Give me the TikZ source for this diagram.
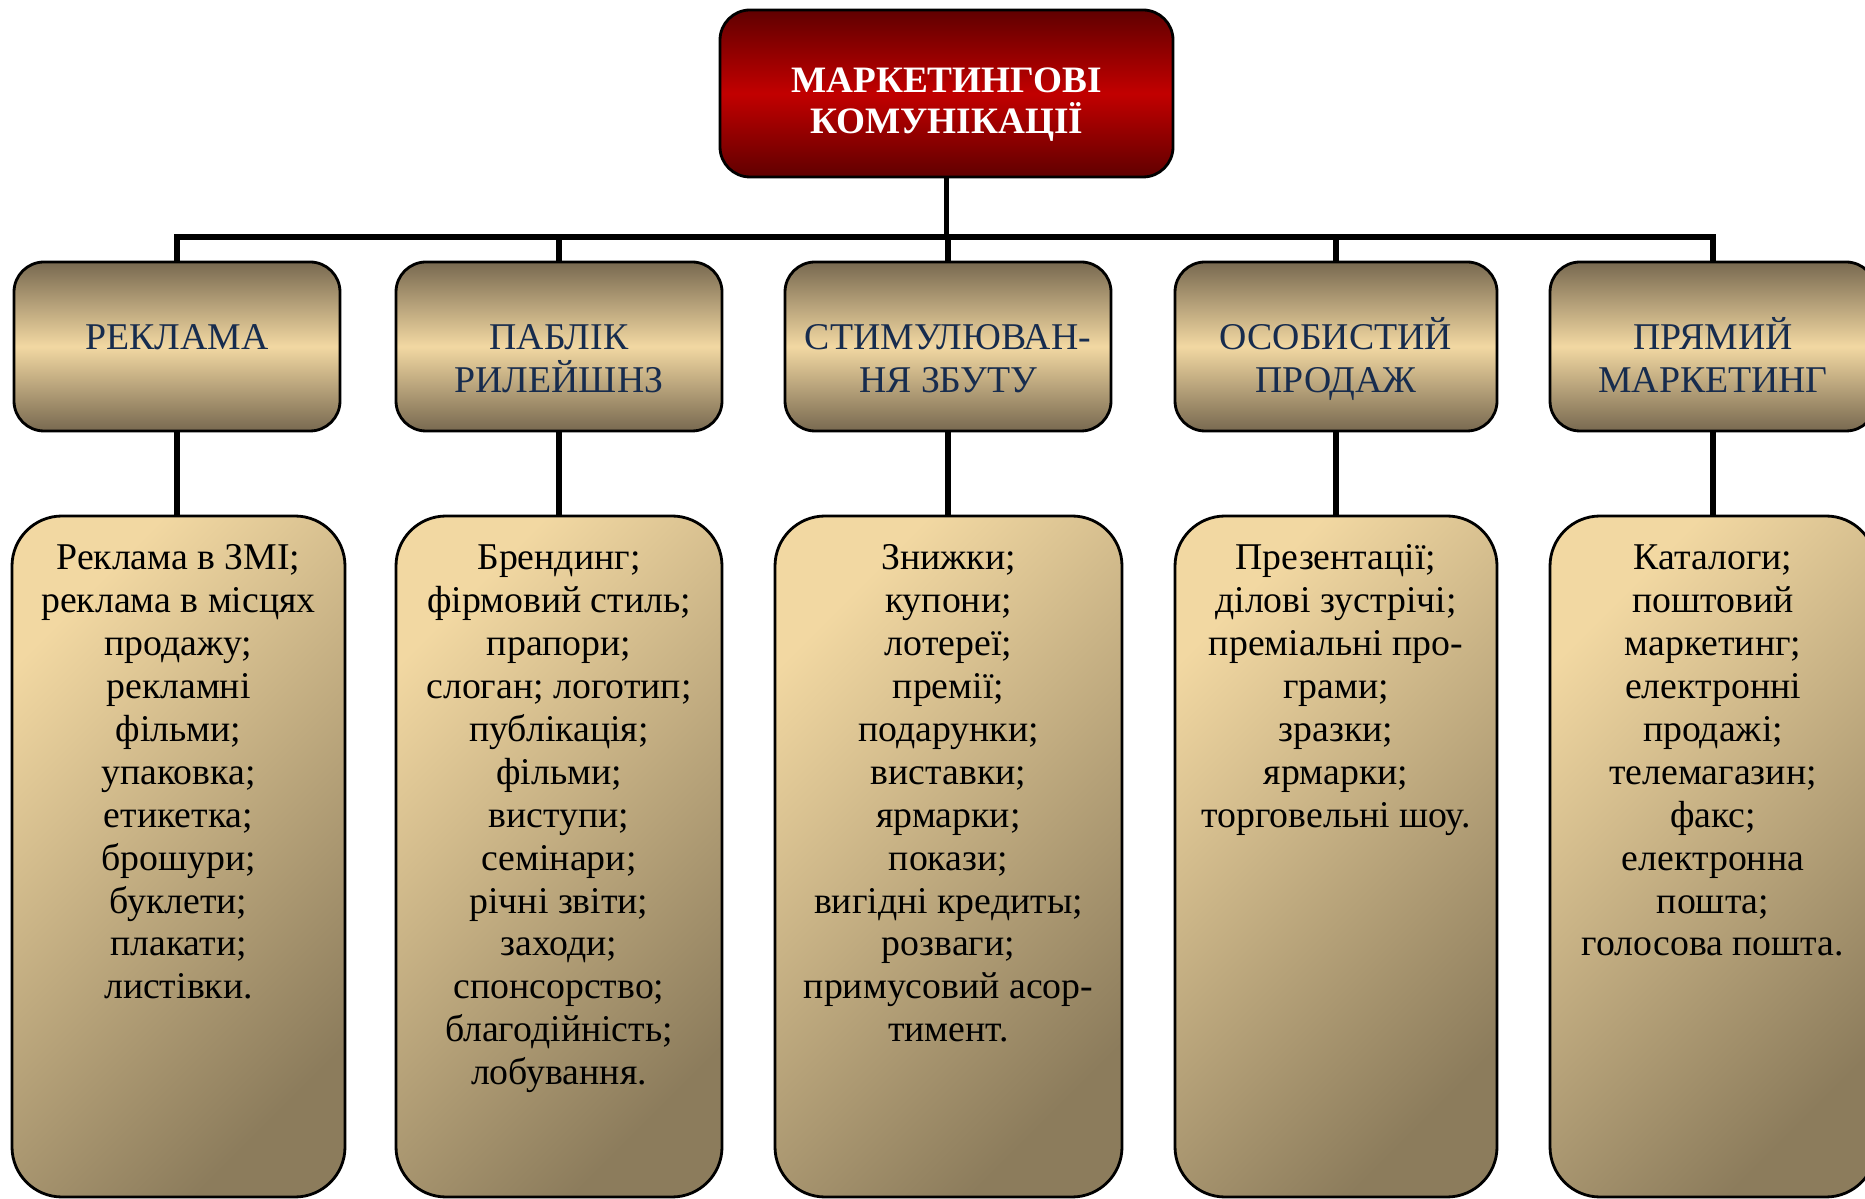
\documentclass[tikz,border=0pt]{standalone}
\usepackage{fontspec}
\setmainfont{Liberation Serif}
\usetikzlibrary{positioning}

\definecolor{reddark}{RGB}{96,0,0}
\definecolor{redmid}{RGB}{194,0,0}
\definecolor{tandark}{RGB}{120,105,80}
\definecolor{tanlight}{RGB}{242,216,162}
\definecolor{listdark}{RGB}{140,124,92}
\definecolor{navy}{RGB}{23,44,78}

\newcommand{\celltext}[4]{\parbox[t][#1][t]{#2}{\centering\rule{0pt}{#3}#4}}

\tikzset{
  mainbox/.style={draw=black, line width=0.8pt, rounded corners=0.3cm, inner sep=0pt,
    top color=reddark, bottom color=reddark, middle color=redmid, text=white,
    font=\bfseries\fontsize{10.6pt}{11.4pt}\selectfont},
  groupbox/.style={draw=black, line width=0.8pt, rounded corners=0.3cm, inner sep=0pt,
    top color=tandark, bottom color=tandark, middle color=tanlight, text=navy,
    font=\fontsize{10.75pt}{12.2pt}\selectfont},
  listbox/.style={draw=black, line width=0.8pt, rounded corners=0.5cm, inner sep=0pt,
    top color=tanlight, bottom color=listdark, shading angle=45, text=black,
    font=\fontsize{10.75pt}{12.2pt}\selectfont},
  link/.style={line width=1.6pt, line join=miter}
}

\begin{document}
\begin{tikzpicture}

\useasboundingbox (0,0) rectangle (18.65,-11.99);

\node[mainbox] (K) at (9.465,-0.935) {\celltext{1.67cm}{4.53cm}{0.83cm}{МАРКЕТИНГОВІ\\КОМУНІКАЦІЇ}};

\node[groupbox] (A) at (1.77,-3.465) {\celltext{1.69cm}{3.26cm}{0.88cm}{РЕКЛАМА}};
\node[groupbox] (B) at (5.59,-3.465) {\celltext{1.69cm}{3.26cm}{0.88cm}{ПАБЛІК\\РИЛЕЙШНЗ}};
\node[groupbox] (C) at (9.48,-3.465) {\celltext{1.69cm}{3.26cm}{0.88cm}{СТИМУЛЮВАН-\\НЯ ЗБУТУ}};
\node[groupbox] (D) at (13.36,-3.465) {\celltext{1.69cm}{3.22cm}{0.88cm}{ОСОБИСТИЙ\\ПРОДАЖ}};
\node[groupbox] (E) at (17.13,-3.465) {\celltext{1.69cm}{3.26cm}{0.88cm}{ПРЯМИЙ\\МАРКЕТИНГ}};

\node[listbox] (A2) at (1.785,-8.565) {\celltext{6.81cm}{3.33cm}{0.54cm}{Реклама в ЗМІ;\\реклама в місцях\\продажу;\\рекламні\\фільми;\\упаковка;\\етикетка;\\брошури;\\буклети;\\плакати;\\листівки.}};
\node[listbox] (B2) at (5.59,-8.565) {\celltext{6.81cm}{3.26cm}{0.54cm}{Брендинг;\\фірмовий стиль;\\прапори;\\слоган; логотип;\\публікація;\\фільми;\\виступи;\\семінари;\\річні звіти;\\заходи;\\спонсорство;\\благодійність;\\лобування.}};
\node[listbox] (C2) at (9.485,-8.565) {\celltext{6.81cm}{3.47cm}{0.54cm}{Знижки;\\купони;\\лотереї;\\премії;\\подарунки;\\виставки;\\ярмарки;\\покази;\\вигідні кредиты;\\розваги;\\примусовий асор-\\тимент.}};
\node[listbox] (D2) at (13.36,-8.565) {\celltext{6.81cm}{3.22cm}{0.54cm}{Презентації;\\ділові зустрічі;\\преміальні про-\\грами;\\зразки;\\ярмарки;\\торговельні шоу.}};
\node[listbox] (E2) at (17.13,-8.565) {\celltext{6.81cm}{3.26cm}{0.54cm}{Каталоги;\\поштовий\\маркетинг;\\електронні\\продажі;\\телемагазин;\\факс;\\електронна\\пошта;\\голосова пошта.}};

\coordinate (bus) at (9.465,-2.37);

\draw[link] (K.south) -- (K.south |- bus);
\draw[link] (A.north) -- (A.north |- bus) -- (E.north |- bus) -- (E.north);
\draw[link] (B.north) -- (B.north |- bus);
\draw[link] (C.north) -- (C.north |- bus);
\draw[link] (D.north) -- (D.north |- bus);
\draw[link] (A.south) -- (A.south |- A2.north);
\draw[link] (B.south) -- (B.south |- B2.north);
\draw[link] (C.south) -- (C.south |- C2.north);
\draw[link] (D.south) -- (D.south |- D2.north);
\draw[link] (E.south) -- (E.south |- E2.north);

\end{tikzpicture}
\end{document}
